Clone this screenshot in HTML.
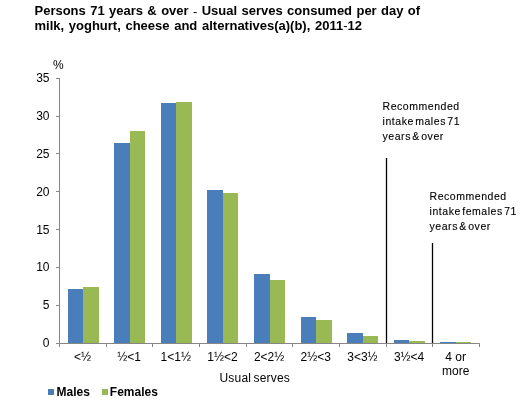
<!DOCTYPE html>
<html><head><meta charset="utf-8"><style>
html,body{margin:0;padding:0;background:#fff;width:521px;height:415px;overflow:hidden}
svg{display:block;will-change:transform;font-family:"Liberation Sans",sans-serif}
</style></head><body>
<svg width="521" height="415" viewBox="0 0 521 415">
<g font-weight="bold" font-size="13" word-spacing="0.8" fill="#000">
<text transform="translate(34.5,14.8) scale(1,1.04)" x="0" y="0">Persons 71 years &amp; over <tspan font-weight="normal" dy="1.2">-</tspan><tspan dy="-1.2"> Usual serves consumed per day of</tspan></text>
<text transform="translate(34.5,29.8) scale(1,1.04)" x="0" y="0" word-spacing="1.1">milk, yoghurt, cheese and alternatives(a)(b), 2011<tspan font-weight="normal" dy="0.6">-</tspan><tspan dy="-0.6">12</tspan></text>
</g>
<rect x="68" y="289" width="15" height="54" fill="#4A7EBB"/><rect x="83" y="287" width="16" height="56" fill="#98B954"/><rect x="114" y="143" width="16" height="200" fill="#4A7EBB"/><rect x="130" y="131" width="15" height="212" fill="#98B954"/><rect x="161" y="103" width="15" height="240" fill="#4A7EBB"/><rect x="176" y="102" width="16" height="241" fill="#98B954"/><rect x="207" y="190" width="16" height="153" fill="#4A7EBB"/><rect x="223" y="193" width="15" height="150" fill="#98B954"/><rect x="254" y="274" width="16" height="69" fill="#4A7EBB"/><rect x="270" y="280" width="15" height="63" fill="#98B954"/><rect x="301" y="317" width="15" height="26" fill="#4A7EBB"/><rect x="316" y="320" width="16" height="23" fill="#98B954"/><rect x="347" y="333" width="16" height="10" fill="#4A7EBB"/><rect x="363" y="336" width="15" height="7" fill="#98B954"/><rect x="394" y="340" width="15" height="3" fill="#4A7EBB"/><rect x="409" y="341" width="16" height="2" fill="#98B954"/><rect x="440" y="342" width="16" height="1" fill="#4A7EBB"/><rect x="456" y="342" width="15" height="1" fill="#98B954"/>
<path d="M59.5 78 V343.5 H479.5 V347" fill="none" stroke="#868686" stroke-width="1"/><path d="M56 343.5 H59.5 M56 305.5 H59.5 M56 267.5 H59.5 M56 229.5 H59.5 M56 191.5 H59.5 M56 153.5 H59.5 M56 116.5 H59.5 M56 78.5 H59.5 M59.5 343.5 V347 M106.5 343.5 V347 M152.5 343.5 V347 M199.5 343.5 V347 M246.5 343.5 V347 M292.5 343.5 V347 M339.5 343.5 V347 M386.5 343.5 V347 M432.5 343.5 V347 M479.5 343.5 V347" fill="none" stroke="#868686" stroke-width="1"/>
<path d="M386.5 158 V343" stroke="#000" stroke-width="1.3"/>
<path d="M432.5 243 V343" stroke="#000" stroke-width="1.3"/>
<g font-size="12" fill="#000">
<text x="53" y="69">%</text>
<text x="49.5" y="346.8" text-anchor="end">0</text><text x="49.5" y="308.8" text-anchor="end">5</text><text x="49.5" y="270.8" text-anchor="end">10</text><text x="49.5" y="233.8" text-anchor="end">15</text><text x="49.5" y="195.8" text-anchor="end">20</text><text x="49.5" y="157.8" text-anchor="end">25</text><text x="49.5" y="119.8" text-anchor="end">30</text><text x="49.5" y="81.8" text-anchor="end">35</text>
<text x="82.4" y="361" text-anchor="middle">&lt;½</text><text x="129.1" y="361" text-anchor="middle">½&lt;1</text><text x="175.8" y="361" text-anchor="middle">1&lt;1½</text><text x="222.4" y="361" text-anchor="middle">1½&lt;2</text><text x="269.1" y="361" text-anchor="middle">2&lt;2½</text><text x="315.8" y="361" text-anchor="middle">2½&lt;3</text><text x="362.4" y="361" text-anchor="middle">3&lt;3½</text><text x="409.1" y="361" text-anchor="middle">3½&lt;4</text><text x="455.7" y="361" text-anchor="middle">4 or</text><text x="455.7" y="375" text-anchor="middle">more</text>
<text x="219.5" y="382" letter-spacing="0.2" word-spacing="-1.2">Usual serves</text>
</g>
<g font-size="10.5" letter-spacing="0.55" word-spacing="-2.1" fill="#000" stroke="#000" stroke-width="0.12">
<text x="382.5" y="110">Recommended</text>
<text x="382.5" y="125">intake males 71</text>
<text x="382.5" y="140">years &amp; over</text>
<text x="429.5" y="200">Recommended</text>
<text x="429.5" y="215">intake females 71</text>
<text x="429.5" y="229.5">years &amp; over</text>
</g>
<rect x="48" y="389" width="6" height="6" fill="#4A7EBB"/>
<rect x="102" y="389" width="6" height="6" fill="#98B954"/>
<g font-size="12" font-weight="bold" fill="#000">
<text x="56.5" y="396">Males</text>
<text x="109.8" y="396">Females</text>
</g>
</svg>
</body></html>
